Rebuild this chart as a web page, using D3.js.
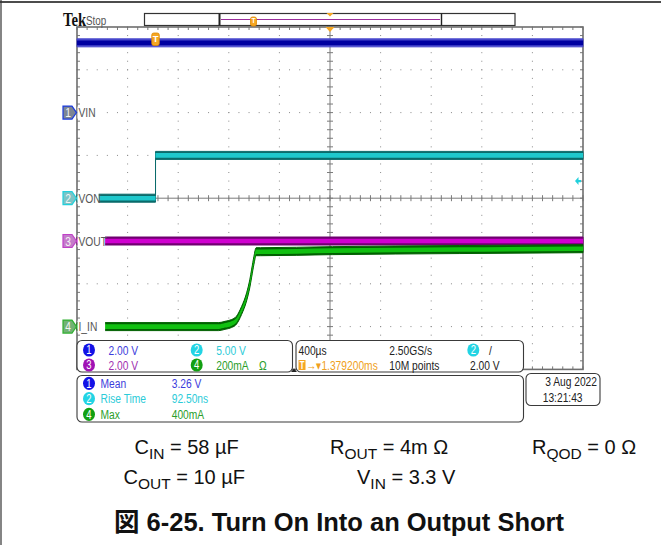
<!DOCTYPE html>
<html><head><meta charset="utf-8">
<script src="https://cdn.jsdelivr.net/npm/d3@7"></script>
<style>body{margin:0;background:#fff}svg{display:block}</style>
</head><body><svg id="c" width="661" height="545"></svg>
<script>
// ---------------- data ----------------
const timeStart = -620.8, timeEnd = 3379.2;          // µs, 400 µs/div, trigger at 0
const timeDivs = [0,1,2,3,4,5,6,7,8,9,10];
const vertDivs = [-4,-3,-2,-1,0,1,2,3,4];
const channelIds = [1,2,3,4];
const channelNames = ["VIN","VON","VOUT","I_IN"];
const channelScale = [2, 5, 2, 200];                  // per division (V, V, V, mA)
const channelPosDiv = [2, 0, -1, -3];                 // ground position (div)
const vinTime  = [-620.8, 3379.2];
const vinValue = [3.26, 3.26];
const vonTime  = [-620.8, 0, 0, 3379.2];
const vonValue = [0, 0, 5.0, 5.0];
const voutTime  = [-620.8, 3379.2];
const voutValue = [0, 0];
const iinTime  = [-620.8, 500, 549, 600, 640, 680, 720, 745, 760, 778, 795, 830, 1400, 2400, 3379.2];
const iinValue = [0, 0, 6, 14, 30, 75, 139, 200, 250, 310, 350, 350, 355, 360, 364];
const scaleLabels = ["2.00 V","5.00 V","2.00 V","200mA"];
const measNames = ["Mean","Rise Time","Max"];
const measValues = ["3.26 V","92.50ns","400mA"];
const measChannels = [1,2,4];
const timebaseText = ["400µs","2.50GS/s","10M points","2.00 V"];
const delayText = "1.379200ms";
const dateText = ["3 Aug 2022","13:21:43"];

// ---------------- styles ----------------
const svg = d3.select("#c");
const L = 77, R = 583, T = 27, B = 369.4;
const chColor = ["#0000a0","#1ec8cc","#d000d0","#10c010"];
const chEdge  = ["#4848cc","#0b6b6b","#700070","#006000"];
const circColor = ["#1212e6","#22d4e4","#a012b4","#12a012"];
const txtColor = ["#3c3cdc","#2ccbd8","#a030b0","#2a9e2a"];
const tagFill = ["#7c8594","#7cc4c6","#c47cca","#72b274"];
const tagStroke = ["#1a3ade","#22d0dc","#c040c8","#30b030"];
const SX = 0.76;
const scopeFont = "'Liberation Sans', Arial, sans-serif";

const x = d3.scaleLinear().domain([timeStart, timeEnd]).range([L, R]);
const yDiv = d3.scaleLinear().domain([-4, 4]).range([B, T]);
const chY = channelIds.map((c,i) => d3.scaleLinear()
  .domain([0, channelScale[i]]).range([yDiv(channelPosDiv[i]), yDiv(channelPosDiv[i] + 1)]));
const divW = (R - L) / 10, divH = (B - T) / 8;

function ctext(g, px, py, str, size, color, anchor, weight) {
  return g.append("text").attr("transform", `translate(${px},${py}) scale(${SX},1)`)
    .attr("font-family", scopeFont).attr("font-size", size).attr("fill", color)
    .attr("text-anchor", anchor || "start").attr("font-weight", weight || "normal").text(str);
}

// page frame
svg.append("line").attr("x1",0).attr("x2",661).attr("y1",2).attr("y2",2).attr("stroke","#111").attr("stroke-width",1.5);
svg.append("line").attr("x1",1).attr("x2",1).attr("y1",0).attr("y2",545).attr("stroke","#333").attr("stroke-width",1.2);

// ---------------- grid ----------------
const grid = svg.append("g");
const minorX = d3.range(0, 51).map(k => L + k * divW / 5);
const minorY = d3.range(0, 41).map(k => T + k * divH / 5);
timeDivs.filter(d => d > 0 && d < 10 && d !== 5).forEach(d => {
  const gx = x(timeStart + d * 400);
  minorY.forEach(yy => grid.append("rect").attr("x", gx - 0.5).attr("y", yy - 0.5).attr("width", 1).attr("height", 1).attr("fill", "#8a8a8a"));
});
vertDivs.filter(d => d > -4 && d < 4 && d !== 0).forEach(d => {
  const gy = yDiv(d);
  minorX.forEach(xx => grid.append("rect").attr("x", xx - 0.5).attr("y", gy - 0.5).attr("width", 1).attr("height", 1).attr("fill", "#8a8a8a"));
});
const cx = x(timeStart + 2000), cy = yDiv(0);
grid.append("line").attr("x1", cx).attr("x2", cx).attr("y1", T).attr("y2", B).attr("stroke", "#7a7a7a").attr("stroke-width", 1);
grid.append("line").attr("x1", L).attr("x2", R).attr("y1", cy).attr("y2", cy).attr("stroke", "#7a7a7a").attr("stroke-width", 1);
minorY.forEach(yy => grid.append("line").attr("x1", cx - 3).attr("x2", cx + 3).attr("y1", yy).attr("y2", yy).attr("stroke", "#7a7a7a"));
minorX.forEach(xx => grid.append("line").attr("x1", xx).attr("x2", xx).attr("y1", cy - 3).attr("y2", cy + 3).attr("stroke", "#7a7a7a"));
minorX.forEach(xx => {
  grid.append("line").attr("x1", xx).attr("x2", xx).attr("y1", T).attr("y2", T + 3).attr("stroke", "#7a7a7a");
  grid.append("line").attr("x1", xx).attr("x2", xx).attr("y1", B).attr("y2", B - 3).attr("stroke", "#7a7a7a");
});
minorY.forEach(yy => {
  grid.append("line").attr("x1", L).attr("x2", L + 3).attr("y1", yy).attr("y2", yy).attr("stroke", "#7a7a7a");
  grid.append("line").attr("x1", R).attr("x2", R - 3).attr("y1", yy).attr("y2", yy).attr("stroke", "#7a7a7a");
});
grid.append("rect").attr("x", L).attr("y", T).attr("width", R - L).attr("height", B - T)
  .attr("fill", "none").attr("stroke", "#6e6e6e").attr("stroke-width", 1.6);

// ---------------- traces ----------------
const traces = [
  {t: vinTime, v: vinValue, ch: 0},
  {t: vonTime, v: vonValue, ch: 1},
  {t: voutTime, v: voutValue, ch: 2},
  {t: iinTime, v: iinValue, ch: 3}
];
const bandHalf = 4, coreHalf = 2.3;
traces.forEach(tr => {
  const pts = tr.t.map((t, i) => [t, tr.v[i]]);
  const ys = chY[tr.ch];
  const curve = tr.ch === 3 ? d3.curveMonotoneX : d3.curveLinear;
  const outer = d3.area().x(d => x(d[0])).y0(d => ys(d[1]) + bandHalf).y1(d => ys(d[1]) - bandHalf).curve(curve);
  const inner = d3.area().x(d => x(d[0])).y0(d => ys(d[1]) + coreHalf).y1(d => ys(d[1]) - coreHalf).curve(curve);
  svg.append("path").attr("d", outer(pts)).attr("fill", chEdge[tr.ch]).attr("stroke", chEdge[tr.ch]).attr("stroke-width", 1);
  svg.append("path").attr("d", inner(pts)).attr("fill", chColor[tr.ch]);
});

// ---------------- channel tags & labels ----------------
channelIds.forEach((c, i) => {
  const yc = chY[i](0);
  const lbl = channelNames[i];
  const w = lbl.length * 6.4 + 2;
  svg.append("rect").attr("x", 77.5).attr("y", yc - 6).attr("width", w).attr("height", 12).attr("fill", "#fff");
  svg.append("polygon").attr("points", `63,${yc-6.5} 72,${yc-6.5} 76.5,${yc} 72,${yc+6.5} 63,${yc+6.5}`)
    .attr("fill", tagFill[i]).attr("stroke", tagStroke[i]).attr("stroke-width", 1.2);
  ctext(svg, 68, yc + 4.8, String(c), 13.5, "#f4f4f4", "middle");
  ctext(svg, 78.5, yc + 4.8, lbl, 13.5, "#555", "start");
});

// trigger level arrow (ch2, 2.00 V)
const tly = chY[1](2.0);
svg.append("polygon").attr("points", `575,${tly} 578.5,${tly-4} 578.5,${tly-1.2} 581,${tly-1.2} 581,${tly+1.2} 578.5,${tly+1.2} 578.5,${tly+4}`).attr("fill", "#22d0dc");

// ---------------- top bar ----------------
svg.append("text").attr("transform", "translate(63,26) scale(0.82,1)").attr("font-family", "'Liberation Serif', serif")
  .attr("font-size", 18).attr("font-weight", "bold").attr("fill", "#111").text("Tek");
ctext(svg, 86, 24.5, "Stop", 13, "#555");
svg.append("rect").attr("x", 144.5).attr("y", 13.5).attr("width", 370.5).attr("height", 12).attr("fill", "#fff").attr("stroke", "#333").attr("stroke-width", 1.2);
svg.append("line").attr("x1", 219.5).attr("x2", 219.5).attr("y1", 13.5).attr("y2", 25.5).attr("stroke", "#222").attr("stroke-width", 2);
svg.append("line").attr("x1", 441.5).attr("x2", 441.5).attr("y1", 13.5).attr("y2", 25.5).attr("stroke", "#222").attr("stroke-width", 1.4);
svg.append("line").attr("x1", 221).attr("x2", 440).attr("y1", 19.5).attr("y2", 19.5).attr("stroke", "#9a2c9a").attr("stroke-width", 1.2);
function tMarker(mx, my, w, h) {
  svg.append("rect").attr("x", mx - w / 2).attr("y", my).attr("width", w).attr("height", h).attr("rx", 2)
    .attr("fill", "#f5a623").attr("stroke", "#e08a00").attr("stroke-width", 0.8);
  svg.append("text").attr("x", mx).attr("y", my + h * 0.72).attr("text-anchor", "middle").attr("font-family", scopeFont)
    .attr("font-size", h * 0.75).attr("font-weight", "bold").attr("fill", "#fff").text("T");
}
const trigX = x(0);
tMarker(253.5, 17, 6, 9);
tMarker(trigX, 33, 7.5, 12.5);
svg.append("polygon").attr("points", `${cx-3.5},13 ${cx+3.5},13 ${cx},16.5`).attr("fill", "#f5a623");
svg.append("polygon").attr("points", `${cx-4.5},27 ${cx+4.5},27 ${cx},32`).attr("fill", "#f5a623");

// ---------------- info panels ----------------
function panel(px, py, w, h) {
  svg.append("rect").attr("x", px).attr("y", py).attr("width", w).attr("height", h).attr("rx", 5)
    .attr("fill", "#fff").attr("stroke", "#3a3a3a").attr("stroke-width", 1.1);
}
function badge(bx, by, c) {
  svg.append("ellipse").attr("cx", bx).attr("cy", by).attr("rx", 6).attr("ry", 6.6).attr("fill", circColor[c - 1]);
  ctext(svg, bx, by + 4.3, String(c), 12.5, "#fff", "middle");
}
panel(77, 340.5, 215.5, 31.5);
panel(296, 340.5, 227.5, 31.5);
panel(77, 375.5, 446.5, 46.5);
panel(526, 373.5, 74, 32);
svg.append("polygon").attr("points", "291,372 297,372 294,368.5").attr("fill", "#222");

[[1, 89, 350], [2, 196.7, 350], [3, 89, 365], [4, 196.7, 365]].forEach(([c, bx, by]) => {
  badge(bx, by, c);
  ctext(svg, bx + 19.5, by + 4.6, scaleLabels[c - 1], 13.5, txtColor[c - 1]);
});
ctext(svg, 259, 369.6, "Ω", 13.5, txtColor[3]);

ctext(svg, 298.5, 354.6, timebaseText[0], 13.5, "#222");
ctext(svg, 389.3, 354.6, timebaseText[1], 13.5, "#222");
badge(473.3, 350, 2);
ctext(svg, 489, 354.6, "/", 13.5, "#222");
svg.append("rect").attr("x", 298.5).attr("y", 360).attr("width", 7).attr("height", 10).attr("fill", "#f5a623");
ctext(svg, 302, 368.5, "T", 10, "#fff", "middle", "bold");
ctext(svg, 306, 369.6, "→▾" + delayText, 13.5, "#f0a020");
ctext(svg, 389.3, 369.6, timebaseText[2], 13.5, "#222");
ctext(svg, 470, 369.6, timebaseText[3], 13.5, "#222");

measNames.forEach((m, i) => {
  const by = [383.3, 398.7, 414.3][i];
  const c = measChannels[i];
  badge(89, by, c);
  ctext(svg, 100.5, by + 4.6, m, 13.5, txtColor[c - 1]);
  ctext(svg, 171.7, by + 4.6, measValues[i], 13.5, txtColor[c - 1]);
});

ctext(svg, 597, 386, dateText[0], 13.5, "#222", "end");
ctext(svg, 542.7, 401.5, dateText[1], 13.5, "#222");

// ---------------- caption text ----------------
const capFont = "'Liberation Sans', Arial, sans-serif";
const capItems = [
  {x: 134.5, y: 454, main: "C", sub: "IN", rest: " = 58 µF"},
  {x: 330, y: 454, main: "R", sub: "OUT", rest: " = 4m Ω"},
  {x: 532, y: 454, main: "R", sub: "QOD", rest: " = 0 Ω"},
  {x: 123.5, y: 484, main: "C", sub: "OUT", rest: " = 10 µF"},
  {x: 357, y: 484, main: "V", sub: "IN", rest: " = 3.3 V"}
];
capItems.forEach(it => {
  const t = svg.append("text").attr("x", it.x).attr("y", it.y).attr("font-family", capFont).attr("font-size", 20).attr("fill", "#111");
  t.append("tspan").text(it.main);
  t.append("tspan").attr("font-size", 15.5).attr("dy", 4.5).text(it.sub);
  t.append("tspan").attr("dy", -4.5).text(it.rest);
});
svg.append("text").attr("x", 114).attr("y", 531).attr("font-family", "'Liberation Sans', Arial, 'Noto Sans CJK JP', sans-serif")
  .attr("font-size", 25.5).attr("font-weight", "bold").attr("fill", "#111")
  .text("図 6-25. Turn On Into an Output Short");
</script></body></html>
